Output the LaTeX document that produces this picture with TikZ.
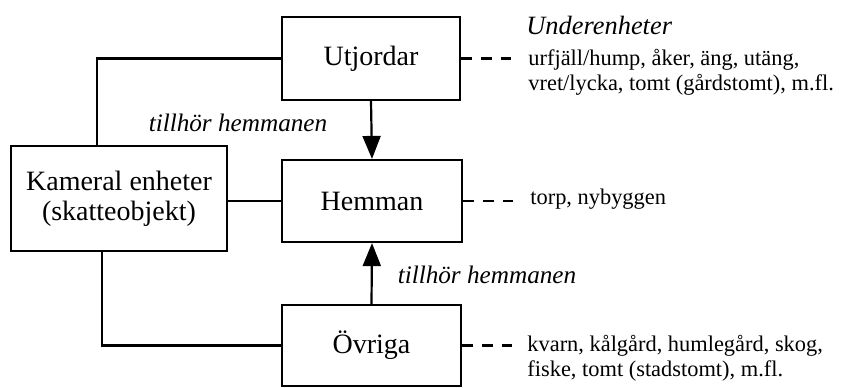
\documentclass[tikz,border=0pt]{standalone}
\usepackage{fontspec}
\setmainfont{Liberation Serif}
\usetikzlibrary{arrows.meta}
\begin{document}
\begin{tikzpicture}[x=0.5pt,y=-0.5pt,
  box/.style={draw,line width=1.1pt,inner sep=0pt,align=center,font=\fontsize{14}{15}\selectfont},
  conn/.style={line width=1.1pt},
  arr/.style={line width=1.1pt,-{Triangle[length=11.5pt,width=9pt]}},
  dsh/.style={line width=1.1pt,dash pattern=on 5.3pt off 4.6pt},
  sub/.style={anchor=west,inner sep=0pt,align=left,font=\fontsize{11.2}{12.5}\selectfont},
  lab/.style={inner sep=0pt,font=\fontsize{12.6}{14}\selectfont\itshape}]
\useasboundingbox (0,0) rectangle (860,387);
\node[box,minimum width=89pt,minimum height=41.5pt] (utj) at (371,58.5) {Utjordar};
\node[box,minimum width=90pt,minimum height=41pt] (hem) at (372,201) {Hemman};
\node[box,minimum width=108pt,minimum height=52.5pt] (kam) at (119,198.5) {Kameral enheter\\(skatteobjekt)};
\node[box,minimum width=89.5pt,minimum height=40.5pt] (ovr) at (371.5,345.5) {Övriga};
\draw[conn] (utj.west) -| ([xshift=-11pt]kam.north);
\draw[conn] (hem.west) -- (hem.west -| kam.east);
\draw[conn] ([xshift=-8.5pt]kam.south) |- (ovr.west);
\draw[arr] (utj.south) -- (hem.north);
\draw[arr] (ovr.north) -- (hem.south);
\node[lab] (l1) at (238,123) {tillhör hemmanen};
\node[lab] (l2) at (487,275) {tillhör hemmanen};
\coordinate (d1) at (514,58.5);
\coordinate (d2) at (514,201);
\coordinate (d3) at (514,345.5);
\draw[dsh] (utj.east) -- (d1);
\draw[dsh] (hem.east) -- (d2);
\draw[dsh] (ovr.east) -- (d3);
\node[lab,anchor=west,font=\fontsize{13.2}{15}\selectfont\itshape] (und) at (526,25) {Underenheter};
\node[sub] (s1) at (528,72.5) {urfjäll/hump, åker, äng, utäng,\\vret/lycka, tomt (gårdstomt), m.fl.};
\node[sub] (s2) at (530,199) {torp, nybyggen};
\node[sub] (s3) at (527,358) {kvarn, kålgård, humlegård, skog,\\fiske, tomt (stadstomt), m.fl.};
\end{tikzpicture}
\end{document}
